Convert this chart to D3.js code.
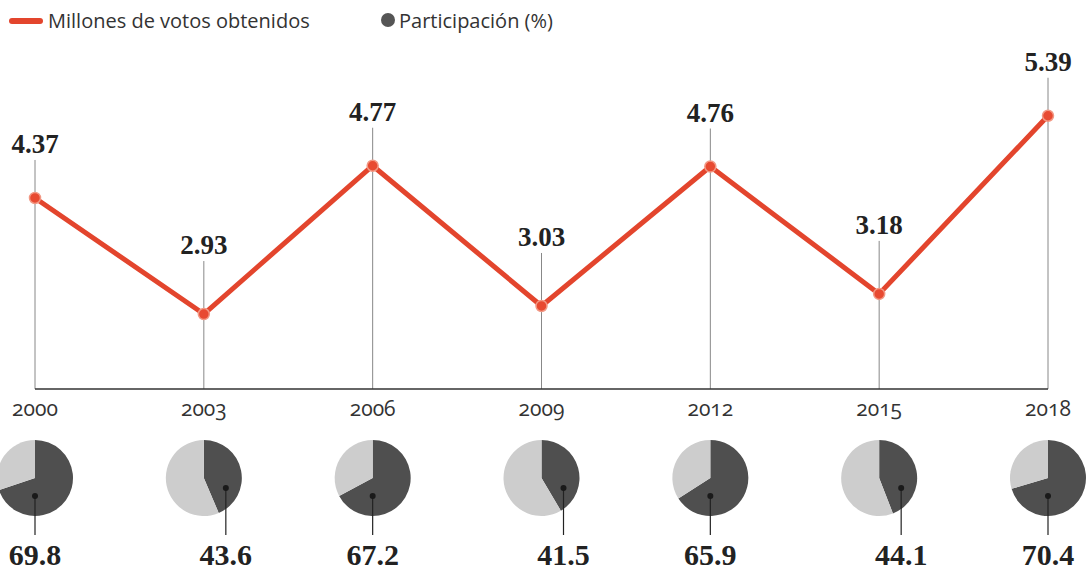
<!DOCTYPE html>
<meta charset="utf-8">
<style>

body {
  margin: 0;
  background: #fff;
}

.legend text,
.year {
  font-family: "Open Sans", sans-serif;
  font-size: 20px;
  fill: #333;
}

.year {
  font-size: 21px;
  font-variant-numeric: oldstyle-nums;
}

.value {
  font-family: "Liberation Serif", serif;
  font-weight: bold;
  fill: #222;
  text-anchor: middle;
}

.guide {
  stroke: #888;
  stroke-width: 1;
}

.baseline {
  stroke: #333;
  stroke-width: 1.5;
}

.votes {
  fill: none;
  stroke: #e3452d;
  stroke-width: 5;
  stroke-linejoin: round;
}

.point {
  fill: #e84a31;
  stroke: #f29884;
  stroke-width: 1.5;
}

</style>
<svg width="1089" height="571"></svg>
<script src="https://cdn.jsdelivr.net/npm/d3@7"></script>
<script>

var years = [2000, 2003, 2006, 2009, 2012, 2015, 2018];
var votes = [4.37, 2.93, 4.77, 3.03, 4.76, 3.18, 5.39];        // millones de votos
var turnout = [69.8, 43.6, 67.2, 41.5, 65.9, 44.1, 70.4];      // participación (%)

var svg = d3.select("svg"),
    width = +svg.attr("width"),
    height = +svg.attr("height");

var x = d3.scaleLinear()
    .domain([2000, 2018])
    .range([35, 1048]);

var y = d3.scaleLinear()
    .domain([2, 6])
    .range([389, 66.6]);

// legend
var legend = svg.append("g").attr("class", "legend");

legend.append("line")
    .attr("x1", 12).attr("x2", 40)
    .attr("y1", 21).attr("y2", 21)
    .attr("stroke", "#e3452d")
    .attr("stroke-width", 6)
    .attr("stroke-linecap", "round");

legend.append("text")
    .attr("x", 48).attr("y", 28)
    .text("Millones de votos obtenidos");

legend.append("circle")
    .attr("cx", 388).attr("cy", 20)
    .attr("r", 7)
    .attr("fill", "#555");

legend.append("text")
    .attr("x", 399).attr("y", 28)
    .text("Participación (%)");

// peaks get their label closer than troughs
function isTrough(i) {
  var prev = i > 0 ? votes[i - 1] : -Infinity,
      next = i < votes.length - 1 ? votes[i + 1] : -Infinity;
  return votes[i] < prev && votes[i] < next;
}

function labelY(d, i) {
  return y(d) - (isTrough(i) ? 60 : 45);
}

// vertical guides
svg.append("g").selectAll("line")
    .data(votes)
  .enter().append("line")
    .attr("class", "guide")
    .attr("x1", (d, i) => x(years[i]))
    .attr("x2", (d, i) => x(years[i]))
    .attr("y1", y(2))
    .attr("y2", (d, i) => labelY(d, i) + 7);

svg.append("line")
    .attr("class", "baseline")
    .attr("x1", x(2000)).attr("x2", x(2018))
    .attr("y1", y(2)).attr("y2", y(2));

var line = d3.line()
    .x((d, i) => x(years[i]))
    .y(d => y(d));

svg.append("path")
    .datum(votes)
    .attr("class", "votes")
    .attr("d", line);

svg.append("g").selectAll("circle")
    .data(votes)
  .enter().append("circle")
    .attr("class", "point")
    .attr("cx", (d, i) => x(years[i]))
    .attr("cy", d => y(d))
    .attr("r", 5.5);

svg.append("g").selectAll("text")
    .data(votes)
  .enter().append("text")
    .attr("class", "value")
    .attr("x", (d, i) => x(years[i]))
    .attr("y", labelY)
    .style("font-size", "27px")
    .text(d => d.toFixed(2));

// years
svg.append("g").selectAll("text")
    .data(years)
  .enter().append("text")
    .attr("class", "year")
    .attr("x", d => x(d))
    .attr("y", 416)
    .attr("text-anchor", "middle")
    .text(d => d);

// turnout pies
var pieY = 478,
    r = 38;

var pie = d3.pie().sort(null).value(d => d);
var arc = d3.arc().innerRadius(0).outerRadius(r);

var pies = svg.append("g").selectAll("g")
    .data(turnout)
  .enter().append("g")
    .attr("transform", (d, i) => "translate(" + x(years[i]) + "," + pieY + ")");

pies.selectAll("path")
    .data(d => pie([d, 100 - d]))
  .enter().append("path")
    .attr("d", arc)
    .attr("fill", (d, i) => i === 0 ? "#4f4f4f" : "#cdcdcd");

// marker dot sits inside the dark slice
function dotX(d) { return d < 50 ? 22 : 0; }
function dotY(d) { return d < 50 ? 10 : 18; }

pies.append("line")
    .attr("x1", dotX).attr("x2", dotX)
    .attr("y1", dotY)
    .attr("y2", 57)
    .attr("stroke", "#222")
    .attr("stroke-width", 1.2);

pies.append("circle")
    .attr("cx", dotX)
    .attr("cy", dotY)
    .attr("r", 3)
    .attr("fill", "#1a1a1a");

pies.append("text")
    .attr("class", "value")
    .attr("x", dotX)
    .attr("y", 87)
    .style("font-size", "30px")
    .text(d => d.toFixed(1));

</script>
